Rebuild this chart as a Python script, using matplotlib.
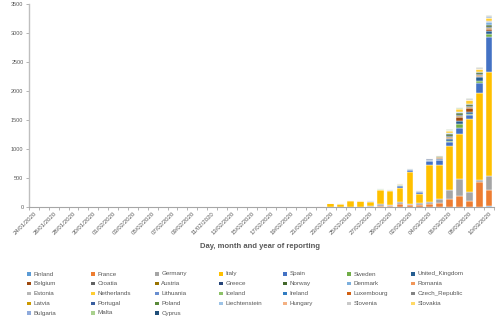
import numpy as np
import pandas as pd
import matplotlib
matplotlib.use('Agg')
import matplotlib.pyplot as plt
from matplotlib.patches import Rectangle

plt.rcParams['font.family'] = ['Liberation Sans', 'DejaVu Sans']

# categories: day of reporting, 24/01/2020 .. 10/03/2020
dates = pd.date_range('2020-01-24', '2020-03-10').strftime('%d/%m/%Y').tolist()

# daily reported cases per country (jan 24-31 | feb 1-21 | feb 22-29 | mar 1-10)
finland = [0,0,0,0,0,0,1,0, 0,0,0,0,0,0,0,0,0,0,0,0,0,0,0,0,0,0,0,0,0, 0,0,0,0,0,1,0,0, 1,0,0,0,0,5,5,8,3,10]
france = [0,3,0,0,0,1,0,1, 0,0,0,0,0,0,0,5,0,0,0,0,0,0,1,0,0,0,0,0,0, 0,0,0,2,2,2,25,17, 43,30,30,46,69,140,190,100,420,290]
germany = [0,0,0,0,1,3,0,1, 2,0,0,2,0,0,1,0,2,0,0,2,0,0,0,0,0,0,0,0,0, 0,0,0,2,4,10,26,23, 46,28,36,40,63,140,281,155,46,234]
italy = [0,0,0,0,0,0,0,2, 0,0,0,0,0,0,1,0,0,0,0,0,0,0,0,0,0,0,0,0,0, 17,70,58,105,100,78,235,238, 240,545,155,644,587,760,778,1247,1492,1797]
spain = [0,0,0,0,0,0,0,0, 1,0,0,0,0,0,0,0,1,0,0,0,0,0,0,0,0,0,0,0,0, 0,0,0,5,6,10,15,8, 36,32,45,57,86,70,110,70,172,600]
sweden = [0,0,0,0,0,0,0,0, 0,1,0,0,0,0,0,0,0,0,0,0,0,0,0,0,0,0,0,0,0, 0,0,0,0,0,6,6,2, 7,2,1,6,12,20,75,25,40,57]
united_kingdom = [0,0,0,0,0,0,0,0, 2,0,0,0,0,0,0,0,1,4,0,0,1,0,0,0,0,0,0,0,0, 0,0,4,0,0,0,3,3, 12,13,4,13,16,30,48,40,60,46]
belgium = [0,0,0,0,0,0,0,0, 0,0,0,0,1,0,0,0,0,0,0,0,0,0,0,0,0,0,0,0,0, 0,0,0,0,0,0,0,0, 0,0,6,5,7,27,60,60,30,40]
croatia = [0,0,0,0,0,0,0,0, 0,0,0,0,0,0,0,0,0,0,0,0,0,0,0,0,0,0,0,0,0, 0,0,0,1,2,2,2,2, 1,2,0,1,2,2,2,1,0,1]
austria = [0,0,0,0,0,0,0,0, 0,0,0,0,0,0,0,0,0,0,0,0,0,0,0,0,0,0,0,0,0, 0,0,0,2,2,2,3,4, 4,4,3,6,14,20,20,25,20,15]
greece = [0,0,0,0,0,0,0,0, 0,0,0,0,0,0,0,0,0,0,0,0,0,0,0,0,0,0,0,0,0, 0,0,0,1,1,2,2,0, 4,3,0,2,9,14,20,7,11,6]
norway = [0,0,0,0,0,0,0,0, 0,0,0,0,0,0,0,0,0,0,0,0,0,0,0,0,0,0,0,0,0, 0,0,0,0,1,1,6,7, 4,6,6,15,10,30,40,30,25,35]
denmark = [0,0,0,0,0,0,0,0, 0,0,0,0,0,0,0,0,0,0,0,0,0,0,0,0,0,0,0,0,0, 0,0,0,0,0,0,1,0, 1,0,0,2,3,10,5,10,8,60]
romania = [0,0,0,0,0,0,0,0, 0,0,0,0,0,0,0,0,0,0,0,0,0,0,0,0,0,0,0,0,0, 0,0,0,0,2,3,2,0, 3,0,0,0,1,3,3,2,2,2]
estonia = [0,0,0,0,0,0,0,0, 0,0,0,0,0,0,0,0,0,0,0,0,0,0,0,0,0,0,0,0,0, 0,0,0,0,0,0,1,0, 0,0,0,0,0,3,2,0,0,8]
netherlands = [0,0,0,0,0,0,0,0, 0,0,0,0,0,0,0,0,0,0,0,0,0,0,0,0,0,0,0,0,0, 0,0,0,0,0,0,1,1, 5,8,6,10,10,38,58,60,50,50]
lithuania = [0,0,0,0,0,0,0,0, 0,0,0,0,0,0,0,0,0,0,0,0,0,0,0,0,0,0,0,0,0, 0,0,0,0,0,0,0,1, 0,0,0,0,0,1,1,0,0,0]
iceland = [0,0,0,0,0,0,0,0, 0,0,0,0,0,0,0,0,0,0,0,0,0,0,0,0,0,0,0,0,0, 0,0,0,0,0,0,0,1, 3,3,2,3,10,8,7,5,3,11]
ireland = [0,0,0,0,0,0,0,0, 0,0,0,0,0,0,0,0,0,0,0,0,0,0,0,0,0,0,0,0,0, 0,0,0,0,0,0,0,1, 0,1,0,0,0,5,5,5,2,10]
luxembourg = [0,0,0,0,0,0,0,0, 0,0,0,0,0,0,0,0,0,0,0,0,0,0,0,0,0,0,0,0,0, 0,0,0,0,0,0,0,0, 1,0,0,0,0,2,2,1,0,2]
czech_republic = [0,0,0,0,0,0,0,0, 0,0,0,0,0,0,0,0,0,0,0,0,0,0,0,0,0,0,0,0,0, 0,0,0,0,0,0,0,0, 3,0,3,0,3,5,7,7,6,15]
latvia = [0,0,0,0,0,0,0,0, 0,0,0,0,0,0,0,0,0,0,0,0,0,0,0,0,0,0,0,0,0, 0,0,0,0,0,0,0,0, 0,0,0,0,0,1,0,0,2,0]
portugal = [0,0,0,0,0,0,0,0, 0,0,0,0,0,0,0,0,0,0,0,0,0,0,0,0,0,0,0,0,0, 0,0,0,0,0,0,0,0, 0,2,2,0,0,2,4,8,9,9]
poland = [0,0,0,0,0,0,0,0, 0,0,0,0,0,0,0,0,0,0,0,0,0,0,0,0,0,0,0,0,0, 0,0,0,0,0,0,0,0, 0,0,0,1,0,1,0,5,6,6]
liechtenstein = [0,0,0,0,0,0,0,0, 0,0,0,0,0,0,0,0,0,0,0,0,0,0,0,0,0,0,0,0,0, 0,0,0,0,0,0,0,0, 0,0,0,0,0,0,1,0,0,0]
hungary = [0,0,0,0,0,0,0,0, 0,0,0,0,0,0,0,0,0,0,0,0,0,0,0,0,0,0,0,0,0, 0,0,0,0,0,0,0,0, 0,0,0,0,2,0,2,2,2,3]
slovenia = [0,0,0,0,0,0,0,0, 0,0,0,0,0,0,0,0,0,0,0,0,0,0,0,0,0,0,0,0,0, 0,0,0,0,0,0,0,0, 0,0,0,0,0,2,5,4,5,7]
slovakia = [0,0,0,0,0,0,0,0, 0,0,0,0,0,0,0,0,0,0,0,0,0,0,0,0,0,0,0,0,0, 0,0,0,0,0,0,0,0, 0,0,0,0,0,0,0,1,0,1]
bulgaria = [0,0,0,0,0,0,0,0, 0,0,0,0,0,0,0,0,0,0,0,0,0,0,0,0,0,0,0,0,0, 0,0,0,0,0,0,0,0, 0,0,0,0,0,0,0,0,4,0]
malta = [0,0,0,0,0,0,0,0, 0,0,0,0,0,0,0,0,0,0,0,0,0,0,0,0,0,0,0,0,0, 0,0,0,0,0,0,0,0, 0,0,0,0,0,0,0,1,0,0]
cyprus = [0,0,0,0,0,0,0,0, 0,0,0,0,0,0,0,0,0,0,0,0,0,0,0,0,0,0,0,0,0, 0,0,0,0,0,0,0,0, 0,0,0,0,0,0,0,0,0,2]

countries = ['Finland', 'France', 'Germany', 'Italy', 'Spain', 'Sweden', 'United_Kingdom',
             'Belgium', 'Croatia', 'Austria', 'Greece', 'Norway', 'Denmark', 'Romania',
             'Estonia', 'Netherlands', 'Lithuania', 'Iceland', 'Ireland', 'Luxembourg', 'Czech_Republic',
             'Latvia', 'Portugal', 'Poland', 'Liechtenstein', 'Hungary', 'Slovenia', 'Slovakia',
             'Bulgaria', 'Malta', 'Cyprus']
series = [finland, france, germany, italy, spain, sweden, united_kingdom,
          belgium, croatia, austria, greece, norway, denmark, romania,
          estonia, netherlands, lithuania, iceland, ireland, luxembourg, czech_republic,
          latvia, portugal, poland, liechtenstein, hungary, slovenia, slovakia,
          bulgaria, malta, cyprus]
colors = ['#5B9BD5', '#ED7D31', '#A5A5A5', '#FFC000', '#4472C4', '#70AD47', '#255E91',
          '#9E480E', '#636363', '#997300', '#264478', '#43682B', '#7CAFDD', '#F1975A',
          '#B7B7B7', '#FFCD33', '#698ED0', '#8CC168', '#327DC2', '#D26012', '#848484',
          '#CC9A00', '#3A5FA0', '#5A8A39', '#9DC3E6', '#F4B183', '#C9C9C9', '#FFD966',
          '#8FAADC', '#A9D18E', '#1F4E79']

W, H = 500, 335
fig = plt.figure(figsize=(W / 100, H / 100), dpi=100)
ax = fig.add_axes([29 / W, 1 - 207 / H, 465 / W, 203 / H])

x = np.arange(len(dates))
bottom = np.zeros(len(dates))
for name, col, vals in zip(countries, colors, series):
    vals = np.array(vals, dtype=float)
    ax.bar(x, vals, 0.68, bottom=bottom, color=col, edgecolor='white', linewidth=0.3)
    bottom += vals

ax.set_xlim(-0.5, len(dates) - 0.5)
ax.set_ylim(0, 3500)
ax.set_yticks(range(0, 3501, 500))

for s in ['top', 'right']:
    ax.spines[s].set_visible(False)
ax.spines['left'].set_color('#BFBFBF')
ax.spines['left'].set_linewidth(1.0)
ax.spines['bottom'].set_color('#A6A6A6')
ax.spines['bottom'].set_linewidth(0.8)

ax.tick_params(axis='y', labelsize=4, colors='#595959', length=2, width=0.6, pad=2)
ax.tick_params(axis='y', color='#A6A6A6')

ax.set_xticks(x[::2])
ax.set_xticklabels(dates[::2], rotation=45, ha='right', va='top', rotation_mode='anchor',
                   fontsize=4.3, color='#595959')
ax.tick_params(axis='x', which='major', length=0, pad=3)
ax.set_xticks(np.arange(-0.5, len(dates), 1), minor=True)
ax.tick_params(axis='x', which='minor', length=2.5, width=0.6, color='#A6A6A6')

fig.text(260 / W, 1 - 246 / H, 'Day, month and year of reporting', ha='center', va='center',
         fontsize=5.5, fontweight='bold', color='#595959')

# legend, 7 equal-width columns like the Excel one
for i, (name, col) in enumerate(zip(countries, colors)):
    c, r = i % 7, i // 7
    xm = 27.3 + 64 * c
    ym = 274 + 9.75 * r
    fig.patches.append(Rectangle((xm / W, 1 - (ym + 1.7) / H), 3.4 / W, 3.4 / H,
                                 transform=fig.transFigure, facecolor=col, edgecolor='none'))
    fig.text((xm + 6) / W, 1 - ym / H, name, ha='left', va='center',
             fontsize=4.5, color='#595959')

fig.savefig('out.png', dpi=100)
